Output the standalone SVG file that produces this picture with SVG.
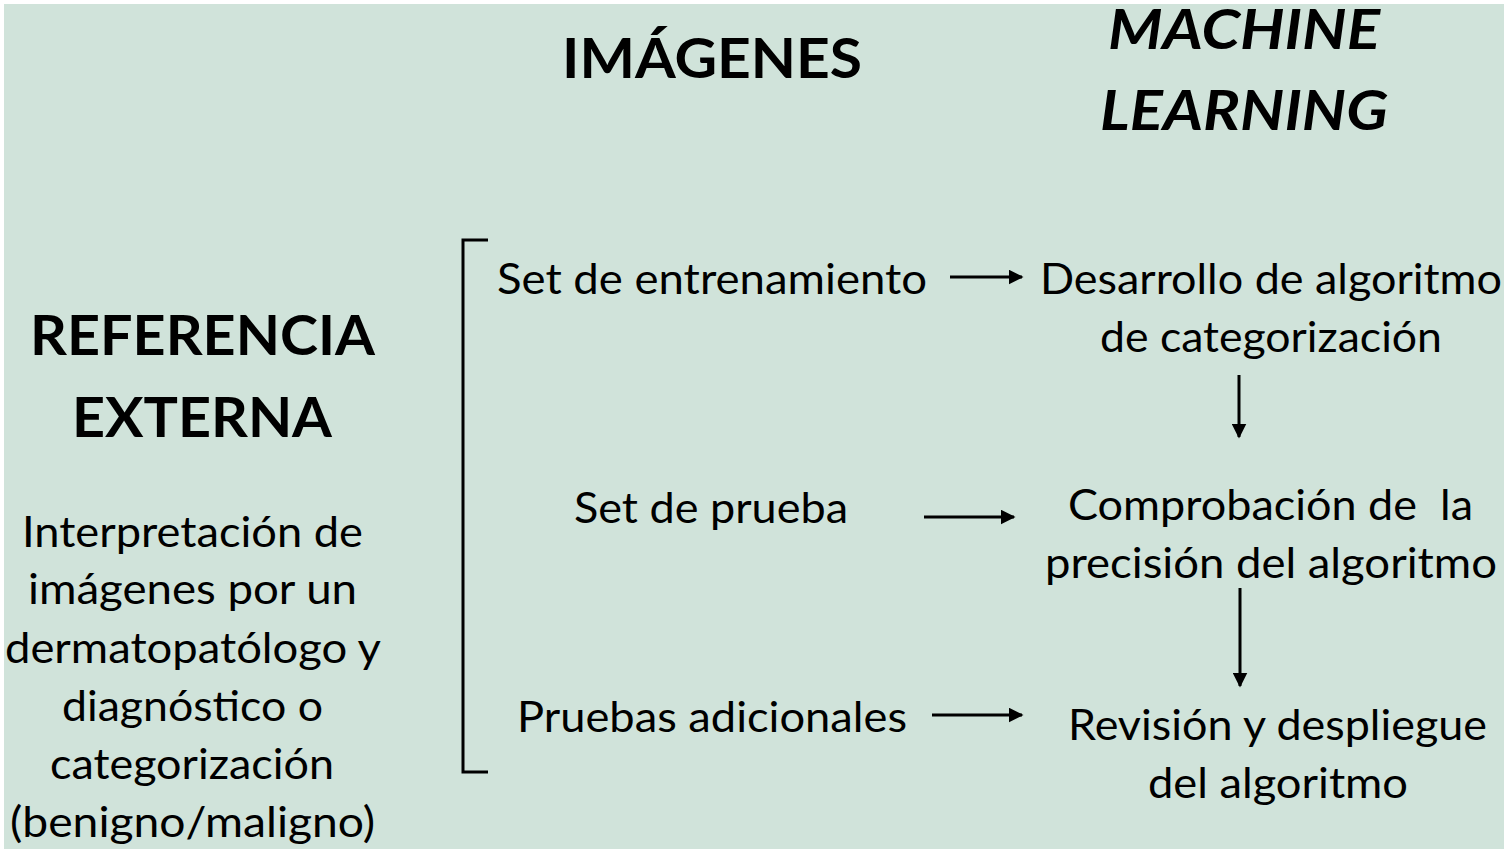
<svg xmlns="http://www.w3.org/2000/svg" width="1508" height="853" viewBox="0 0 1508 853">
<defs>
<style>
.t{font-family:Lato,"Open Sans","Liberation Sans",sans-serif;font-size:42px;fill:#000}
.h{font-family:Lato,"Open Sans","Liberation Sans",sans-serif;font-size:56px;font-weight:bold;fill:#000}
.hi{font-style:italic}
.c{stroke:#000;stroke-width:3;fill:none}
</style>
<marker id="ah" viewBox="0 0 10 10" refX="9" refY="5" markerWidth="5" markerHeight="5" orient="auto" markerUnits="strokeWidth">
<path d="M0,0 L10,5 L0,10 z" fill="#000"/>
</marker>
</defs>
<rect x="0" y="0" width="1508" height="853" fill="#fff"/>
<rect x="4" y="4" width="1500" height="845" fill="#d0e3da"/>
<g id="title-imagenes"><text class="h" x="562" y="78" textLength="300" lengthAdjust="spacingAndGlyphs">IMÁGENES</text></g>
<g id="title-ml">
<text class="h hi" x="1108" y="49" textLength="272" lengthAdjust="spacingAndGlyphs">MACHINE</text>
<text class="h hi" x="1100" y="130" textLength="288" lengthAdjust="spacingAndGlyphs">LEARNING</text>
</g>
<g id="referencia">
<text class="h" x="30" y="355" textLength="345" lengthAdjust="spacingAndGlyphs">REFERENCIA</text>
<text class="h" x="72" y="437" textLength="260" lengthAdjust="spacingAndGlyphs">EXTERNA</text>
</g>
<g id="interpretacion">
<text class="t" x="22" y="547" textLength="341" lengthAdjust="spacingAndGlyphs">Interpretación de</text>
<text class="t" x="28" y="604" textLength="329" lengthAdjust="spacingAndGlyphs">imágenes por un</text>
<text class="t" x="5" y="663" textLength="376" lengthAdjust="spacingAndGlyphs">dermatopatólogo y</text>
<text class="t" x="62" y="721" textLength="261" lengthAdjust="spacingAndGlyphs">diagnóstico o</text>
<text class="t" x="50" y="779" textLength="284" lengthAdjust="spacingAndGlyphs">categorización</text>
<text class="t" x="10" y="837" textLength="365" lengthAdjust="spacingAndGlyphs">(benigno/maligno)</text>
</g>
<g id="bracket"><path class="c" d="M488,240 L463,240 L463,772 L488,772"/></g>
<g id="set-entrenamiento"><text class="t" x="497" y="294" textLength="430" lengthAdjust="spacingAndGlyphs">Set de entrenamiento</text></g>
<g id="set-prueba"><text class="t" x="574" y="523" textLength="274" lengthAdjust="spacingAndGlyphs">Set de prueba</text></g>
<g id="pruebas-adicionales"><text class="t" x="517" y="732" textLength="390" lengthAdjust="spacingAndGlyphs">Pruebas adicionales</text></g>
<g id="desarrollo">
<text class="t" x="1040" y="294" textLength="462" lengthAdjust="spacingAndGlyphs">Desarrollo de algoritmo</text>
<text class="t" x="1100" y="352" textLength="342" lengthAdjust="spacingAndGlyphs">de categorización</text>
</g>
<g id="comprobacion">
<text class="t" x="1068" y="520" textLength="405" lengthAdjust="spacingAndGlyphs" xml:space="preserve">Comprobación de  la</text>
<text class="t" x="1045" y="578" textLength="452" lengthAdjust="spacingAndGlyphs">precisión del algoritmo</text>
</g>
<g id="revision">
<text class="t" x="1068" y="740" textLength="419" lengthAdjust="spacingAndGlyphs">Revisión y despliegue</text>
<text class="t" x="1148" y="798" textLength="260" lengthAdjust="spacingAndGlyphs">del algoritmo</text>
</g>
<g id="connectors">
<line class="c" x1="950" y1="277" x2="1022" y2="277" marker-end="url(#ah)"/>
<line class="c" x1="924" y1="517" x2="1014" y2="517" marker-end="url(#ah)"/>
<line class="c" x1="932" y1="715" x2="1022" y2="715" marker-end="url(#ah)"/>
<line class="c" x1="1239" y1="375" x2="1239" y2="437" marker-end="url(#ah)"/>
<line class="c" x1="1240" y1="588" x2="1240" y2="686" marker-end="url(#ah)"/>
</g>
</svg>
